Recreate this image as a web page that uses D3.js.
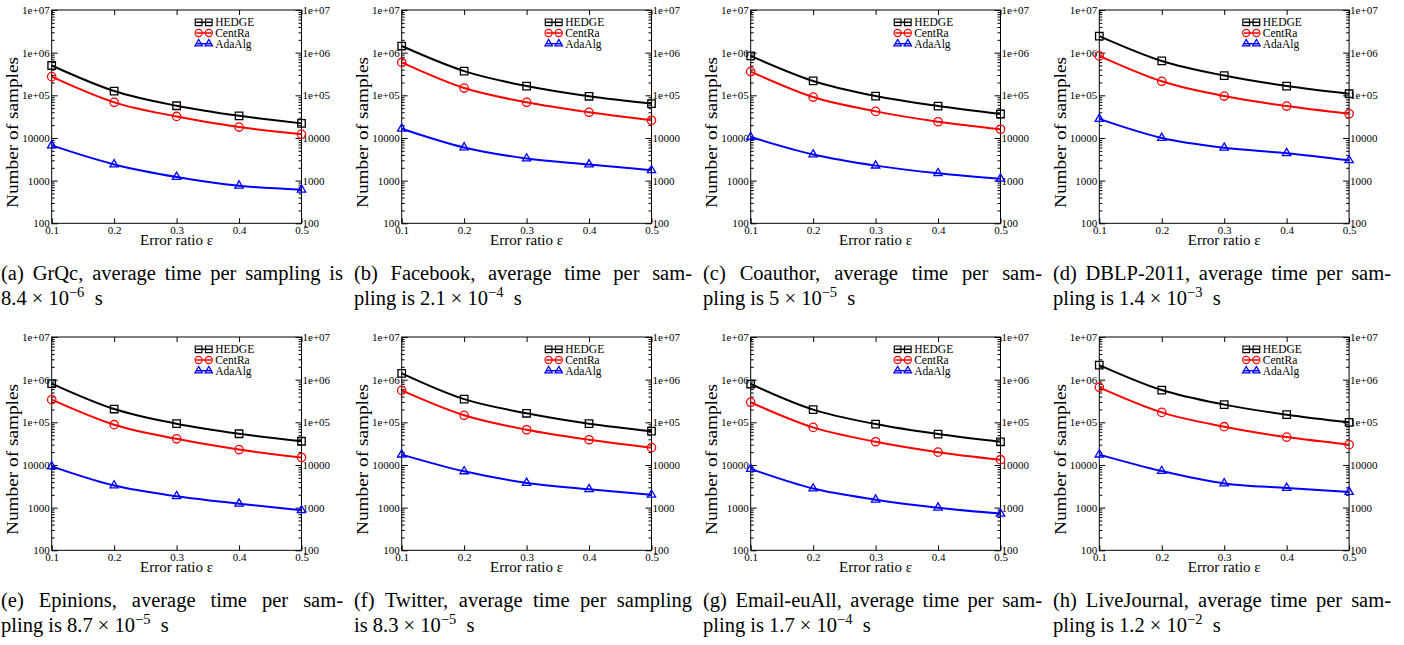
<!DOCTYPE html>
<html lang="en">
<head>
<meta charset="UTF-8">
<title>Number of samples vs error ratio</title>
<script src="https://cdn.jsdelivr.net/npm/d3@7"></script>
<style>
    body { margin: 0; background: #fff; }
    text { font-family: "Liberation Serif", "Times New Roman", serif; fill: #000; }
</style>
</head>
<body>
<script>
    // x values and tick labels
    let epsilons = [0.1, 0.2, 0.3, 0.4, 0.5];
    let xTickLabels = ['0.1', '0.2', '0.3', '0.4', '0.5'];
    let yTickValues = [1e2, 1e3, 1e4, 1e5, 1e6, 1e7];
    let yTickLabels = ['100', '1000', '10000', '1e+05', '1e+06', '1e+07'];
    let seriesNames = ['HEDGE', 'CentRa', 'AdaAlg'];
    let datasets = ['GrQc', 'Facebook', 'Coauthor', 'DBLP-2011', 'Epinions', 'Twitter', 'Email-euAll', 'LiveJournal'];

    // number of samples, one row per data set
    let hedge = [
        [5.0e5, 1.26e5, 5.7e4, 3.3e4, 2.2e4],
        [1.43e6, 3.7e5, 1.65e5, 9.5e4, 6.4e4],
        [8.4e5, 2.17e5, 9.6e4, 5.6e4, 3.65e4],
        [2.45e6, 6.4e5, 2.9e5, 1.65e5, 1.09e5],
        [8.1e5, 2.05e5, 9.3e4, 5.4e4, 3.6e4],
        [1.41e6, 3.5e5, 1.63e5, 9.3e4, 6.2e4],
        [7.9e5, 1.98e5, 9.1e4, 5.3e4, 3.5e4],
        [2.2e6, 5.7e5, 2.6e5, 1.51e5, 1.0e5]
    ];
    let centra = [
        [2.74e5, 6.85e4, 3.2e4, 1.8e4, 1.22e4],
        [5.9e5, 1.48e5, 6.85e4, 4.0e4, 2.6e4],
        [3.6e5, 9.1e4, 4.2e4, 2.4e4, 1.6e4],
        [8.4e5, 2.13e5, 9.6e4, 5.6e4, 3.7e4],
        [3.4e5, 8.8e4, 4.1e4, 2.3e4, 1.5e4],
        [5.6e5, 1.46e5, 6.7e4, 3.9e4, 2.55e4],
        [2.94e5, 7.6e4, 3.5e4, 2.0e4, 1.33e4],
        [6.6e5, 1.71e5, 7.9e4, 4.5e4, 3.0e4]
    ];
    let adaalg = [
        [6.7e3, 2.4e3, 1.22e3, 760, 615],
        [1.65e4, 6.0e3, 3.3e3, 2.4e3, 1.75e3],
        [1.05e4, 4.1e3, 2.25e3, 1.49e3, 1.11e3],
        [2.8e4, 1.0e4, 5.9e3, 4.4e3, 3.0e3],
        [9.3e3, 3.3e3, 1.85e3, 1.24e3, 866],
        [1.75e4, 7.1e3, 3.8e3, 2.7e3, 2.0e3],
        [8.1e3, 2.8e3, 1.54e3, 1.0e3, 724],
        [1.75e4, 7.2e3, 3.7e3, 2.9e3, 2.33e3]
    ];

    // captions
    let captionLine1 = [
        '(a) GrQc, average time per sampling is',
        '(b) Facebook, average time per sam-',
        '(c) Coauthor, average time per sam-',
        '(d) DBLP-2011, average time per sam-',
        '(e) Epinions, average time per sam-',
        '(f) Twitter, average time per sampling',
        '(g) Email-euAll, average time per sam-',
        '(h) LiveJournal, average time per sam-'
    ];
    let captionLead = ['', 'pling is ', 'pling is ', 'pling is ', 'pling is ', 'is ', 'pling is ', 'pling is '];
    let timeMantissa = ['8.4', '2.1', '5', '1.4', '8.7', '8.3', '1.7', '1.2'];
    let timeExponent = ['\u22126', '\u22124', '\u22125', '\u22123', '\u22125', '\u22125', '\u22124', '\u22122'];

    let width = 1404, height = 645;
    let svg = d3.select('body').append('svg')
        .attr('width', width)
        .attr('height', height);

    // layout
    let colX = [51.7, 401.7, 750.7, 1099.3];
    let rowY = [10, 337];
    let pw = 249.8, ph = 213.3;
    let capLeft = [1, 354, 703, 1053], capRight = [343, 692, 1042, 1391];
    let capBase1 = [280, 607], capBase2 = [305, 632];

    let x = d3.scaleLinear().domain([0.1, 0.5]).range([0, pw]);
    let y = d3.scaleLog().domain([100, 1e7]).range([ph, 0]);

    let minorY = [];
    for (let k = 2; k < 7; k++) {
        for (let m = 2; m <= 9; m++) minorY.push(m * Math.pow(10, k));
    }

    let colors = ['#000000', '#ff0000', '#0000ff'];
    let symbols = [
        d3.symbol().type(d3.symbolSquare).size(56),
        d3.symbol().type(d3.symbolCircle).size(55),
        d3.symbol().type(d3.symbolTriangle).size(30)
    ];
    let legendSymbols = [
        d3.symbol().type(d3.symbolSquare).size(44),
        d3.symbol().type(d3.symbolCircle).size(40),
        d3.symbol().type(d3.symbolTriangle).size(24)
    ];

    let line = d3.line()
        .x((d, i) => x(epsilons[i]))
        .y(d => y(d))
        .curve(d3.curveMonotoneX);

    function styleAxis(g, size) {
        g.select('.domain').remove();
        g.selectAll('line').attr('stroke', '#000').attr('stroke-width', 1);
        g.selectAll('text')
            .attr('font-family', '"Liberation Serif", serif')
            .attr('font-size', size)
            .attr('fill', '#000');
    }

    datasets.forEach(function (name, p) {
        let col = p % 4, row = Math.floor(p / 4);
        let g = svg.append('g')
            .attr('transform', 'translate(' + colX[col] + ',' + rowY[row] + ')');

        // y axes, major and minor ticks on both sides, pointing in
        g.append('g')
            .call(d3.axisLeft(y).tickValues(yTickValues).tickSize(-6).tickPadding(2)
                .tickFormat((d, i) => yTickLabels[i]))
            .call(a => styleAxis(a, 11));
        g.append('g')
            .call(d3.axisLeft(y).tickValues(minorY).tickSize(-3).tickFormat(''))
            .call(a => styleAxis(a, 11));
        g.append('g')
            .attr('transform', 'translate(' + pw + ',0)')
            .call(d3.axisRight(y).tickValues(yTickValues).tickSize(-6).tickPadding(1)
                .tickFormat((d, i) => yTickLabels[i]))
            .call(a => styleAxis(a, 11));
        g.append('g')
            .attr('transform', 'translate(' + pw + ',0)')
            .call(d3.axisRight(y).tickValues(minorY).tickSize(-3).tickFormat(''))
            .call(a => styleAxis(a, 11));

        // x axes
        g.append('g')
            .attr('transform', 'translate(0,' + ph + ')')
            .call(d3.axisBottom(x).tickValues(epsilons).tickSize(-5).tickPadding(3)
                .tickFormat((d, i) => xTickLabels[i]))
            .call(a => styleAxis(a, 11));
        g.append('g')
            .call(d3.axisTop(x).tickValues(epsilons).tickSize(-5).tickFormat(''))
            .call(a => styleAxis(a, 11));

        // frame
        g.append('rect')
            .attr('width', pw).attr('height', ph)
            .attr('fill', 'none').attr('stroke', '#000').attr('stroke-width', 1);

        // series
        [hedge[p], centra[p], adaalg[p]].forEach(function (vals, s) {
            g.append('path')
                .attr('d', line(vals))
                .attr('fill', 'none')
                .attr('stroke', colors[s])
                .attr('stroke-width', 2);
            g.selectAll('.m' + s)
                .data(vals)
                .enter()
                .append('path')
                .attr('class', 'm' + s)
                .attr('transform', (d, i) => 'translate(' + x(epsilons[i]) + ',' + y(d) + ')')
                .attr('d', symbols[s]())
                .attr('fill', 'none')
                .attr('stroke', colors[s])
                .attr('stroke-width', 1.3);
        });

        // legend
        let lg = g.append('g').attr('transform', 'translate(144.5,12.3)');
        seriesNames.forEach(function (sn, s) {
            let row = lg.append('g').attr('transform', 'translate(0,' + (s * 10.7) + ')');
            row.append('line')
                .attr('x1', 0).attr('x2', 15.5)
                .attr('stroke', colors[s]).attr('stroke-width', 1.5);
            [2.4, 12.6].forEach(function (mx) {
                row.append('path')
                    .attr('transform', 'translate(' + mx + ',0)')
                    .attr('d', legendSymbols[s]())
                    .attr('fill', 'none')
                    .attr('stroke', colors[s])
                    .attr('stroke-width', 1.2);
            });
            row.append('text')
                .attr('x', 19)
                .attr('dy', '0.35em')
                .attr('font-size', 11.5)
                .text(sn);
        });

        // axis titles
        g.append('text')
            .attr('x', pw / 2)
            .attr('y', ph + 22)
            .attr('text-anchor', 'middle')
            .attr('font-size', 15)
            .text('Error ratio \u03b5');
        g.append('text')
            .attr('transform', 'translate(-33.5,122.5) rotate(-90)')
            .attr('text-anchor', 'middle')
            .attr('font-size', 16)
            .attr('textLength', 151)
            .attr('lengthAdjust', 'spacingAndGlyphs')
            .text('Number of samples');

        // caption, first line justified over the column
        let words = captionLine1[p].split(' ');
        let t1 = svg.append('text')
            .attr('y', capBase1[row])
            .attr('font-size', 20.5);
        let spans = words.map(w => t1.append('tspan').text(w));
        let widths = spans.map(s => s.node().getComputedTextLength());
        let gap = (capRight[col] - capLeft[col] - d3.sum(widths)) / (words.length - 1);
        let cx = capLeft[col];
        spans.forEach(function (s, i) {
            s.attr('x', cx);
            cx += widths[i] + gap;
        });

        let t2 = svg.append('text')
            .attr('x', capLeft[col])
            .attr('y', capBase2[row])
            .attr('font-size', 20.5);
        t2.append('tspan').text(captionLead[p] + timeMantissa[p] + ' \u00d7 10');
        t2.append('tspan')
            .attr('font-size', 14.5)
            .attr('dy', -8)
            .text(timeExponent[p]);
        t2.append('tspan')
            .attr('dy', 8)
            .text('\u2002s');
    });
</script>
</body>
</html>
